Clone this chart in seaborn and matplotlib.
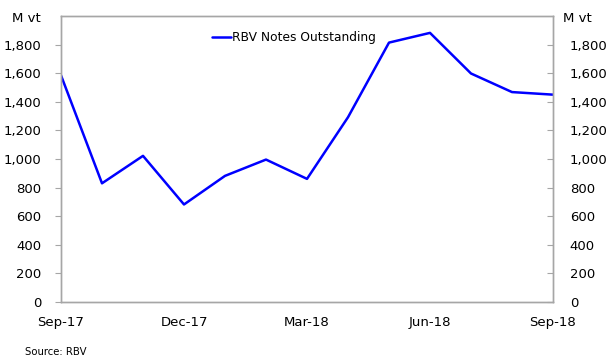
import matplotlib
matplotlib.use("Agg")
import matplotlib.pyplot as plt
import seaborn as sns
import pandas as pd

months = ["Sep-17", "Oct-17", "Nov-17", "Dec-17", "Jan-18", "Feb-18", "Mar-18",
          "Apr-18", "May-18", "Jun-18", "Jul-18", "Aug-18", "Sep-18"]
notes = [1585, 830, 1022, 682, 882, 996, 861, 1292, 1814, 1882, 1598, 1468, 1450]
series_name = "RBV Notes Outstanding"
y_ticks = [0, 200, 400, 600, 800, 1000, 1200, 1400, 1600, 1800]
unit_label = "M vt"
source_text = "Source: RBV"

sns.set_theme(style="white", rc={"text.color": "black", "axes.labelcolor": "black",
                                 "xtick.color": "black", "ytick.color": "black"})
plt.rcParams['font.family'] = ['DejaVu Sans']

df = pd.DataFrame({"pos": list(range(len(months))), "value": notes, "series": series_name})

fig = plt.figure(figsize=(6.09, 3.58), dpi=100)
ax = fig.add_axes([61/609, 1 - 302/358, (553 - 61)/609, (302 - 16)/358])

sns.lineplot(data=df, x="pos", y="value", hue="series", palette=["#0000FF"],
             linewidth=1.8, ax=ax)

ax.set_xlim(0, len(months) - 1)
ax.set_ylim(0, 2000)
ax.set_xlabel("")
ax.set_ylabel("")
tick_pos = [0, 3, 6, 9, 12]
ax.set_xticks(tick_pos)
ax.set_xticklabels([months[i] for i in tick_pos])
ax.set_yticks(y_ticks)
ax.set_yticklabels([f"{v:,}" for v in y_ticks])

gray = "#A6A6A6"
for s in ax.spines.values():
    s.set_color(gray)
    s.set_linewidth(1.0)

ax.tick_params(axis="x", direction="in", length=5, color=gray, width=0.8,
               labelsize=9.5, pad=10, labelcolor="black")
ax.tick_params(axis="y", direction="out", length=4, color=gray, width=0.8,
               labelsize=9.5, pad=10, labelcolor="black")

ax2 = ax.twinx()
ax2.set_ylim(0, 2000)
ax2.set_yticks(y_ticks)
ax2.set_yticklabels([f"{v:,}" for v in y_ticks])
ax2.tick_params(axis="y", direction="in", length=4, color=gray, width=0.8,
                labelsize=9.5, pad=12, labelcolor="black")
for s in ax2.spines.values():
    s.set_color(gray)
    s.set_linewidth(1.0)
ax2.grid(False)
ax.grid(False)

leg = ax.legend(loc="upper left", bbox_to_anchor=(0.285, 0.985), frameon=False,
                fontsize=8.8, handlelength=1.5, handletextpad=0.1)
for t in leg.get_texts():
    t.set_color("black")

fig.text(12/609, 1 - 18/358, unit_label, fontsize=9.5, va="center", ha="left")
fig.text(563/609, 1 - 18/358, unit_label, fontsize=9.5, va="center", ha="left")
fig.text(25/609, 1 - 352/358, source_text, fontsize=7.3, va="center", ha="left")

fig.savefig("out.png", dpi=100)
